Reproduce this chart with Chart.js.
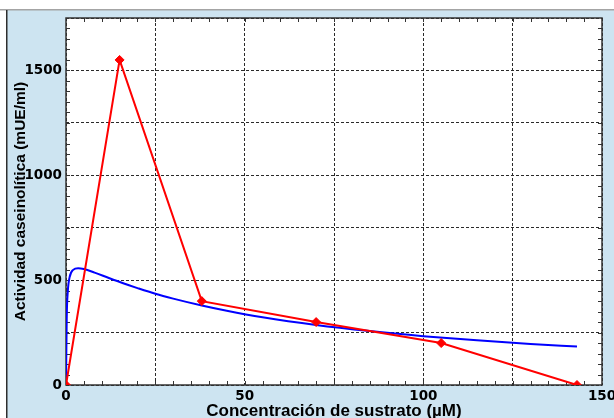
<!DOCTYPE html>
<html>
<head>
<meta charset="utf-8">
<script src="https://cdn.jsdelivr.net/npm/chart.js@4.4.1/dist/chart.umd.min.js"></script>
<style>
  html, body { margin: 0; padding: 0; background: #fff; }
</style>
</head>
<body>
<canvas id="actividad" width="614" height="418"></canvas>
<script>
// Actividad caseinolítica frente a concentración de sustrato
const medidosX = [0, 15, 38, 70, 105, 143];
const medidosY = [0, 1550, 400, 300, 200, 0];

// curva ajustada (inhibición por exceso de sustrato)
const ajusteX = [0, 0.2, 0.5, 1, 2, 3.4, 5, 8, 12, 16, 20, 25, 30, 38, 45, 55, 70, 85, 100, 115, 130, 143];
const ajusteY = [0, 316, 445, 513, 549, 557, 553, 536, 510, 485, 462, 435, 412, 379, 354, 323, 286, 257, 233, 213, 196, 183];

const xLabels = [0, 50, 100, 150];
const yLabels = [0, 500, 1000, 1500];

const toPoints = (xs, ys) => xs.map((x, i) => ({ x, y: ys[i] }));

// fondo azul del panel, área blanca, marco y marcas menores hacia dentro
const marco = {
    id: 'marco',
    beforeDraw(chart) {
        const { ctx, chartArea: a, width, height } = chart;
        ctx.save();
        ctx.fillStyle = '#cde4f1';
        ctx.fillRect(7, 10, width - 7, height - 10);
        ctx.fillStyle = '#a4a4a4';
        ctx.fillRect(0, 9, width, 1.5);
        ctx.fillStyle = '#2e2e2e';
        ctx.fillRect(6, 10, 1.5, height - 10);
        ctx.fillStyle = '#fff';
        ctx.fillRect(a.left, a.top, a.width, a.height);
        ctx.restore();
    },
    beforeDatasetsDraw(chart) {
        const { ctx, chartArea: a, scales: { x, y } } = chart;
        const len = 4;
        ctx.save();
        ctx.strokeStyle = '#333';
        ctx.lineWidth = 1;
        ctx.beginPath();
        for (let v = 5; v < 150; v += 5) {
            const px = Math.round(x.getPixelForValue(v)) + 0.5;
            ctx.moveTo(px, a.top); ctx.lineTo(px, a.top + len);
            ctx.moveTo(px, a.bottom); ctx.lineTo(px, a.bottom - len);
        }
        for (let v = 50; v < 1750; v += 50) {
            const py = Math.round(y.getPixelForValue(v)) + 0.5;
            ctx.moveTo(a.left, py); ctx.lineTo(a.left + len, py);
            ctx.moveTo(a.right, py); ctx.lineTo(a.right - len, py);
        }
        ctx.stroke();
        ctx.lineWidth = 1.5;
        ctx.strokeRect(a.left, a.top, a.width, a.height);
        ctx.restore();
    }
};

const tickFont = { family: 'DejaVu Sans', weight: 'bold', size: 13.5 };

new Chart(document.getElementById('actividad'), {
    type: 'line',
    data: {
        datasets: [
            {
                label: 'Medido',
                data: toPoints(medidosX, medidosY),
                borderColor: '#ff0000',
                borderWidth: 2,
                pointStyle: 'rectRot',
                pointRadius: 4.5,
                pointBackgroundColor: '#ff0000',
                pointBorderColor: '#ff0000',
                pointBorderWidth: 1,
                tension: 0,
                fill: false
            },
            {
                label: 'Ajuste',
                data: toPoints(ajusteX, ajusteY),
                borderColor: '#0000ff',
                borderWidth: 2,
                pointRadius: 0,
                cubicInterpolationMode: 'monotone',
                fill: false
            }
        ]
    },
    options: {
        responsive: false,
        animation: false,
        layout: { padding: { top: 18, right: 12, bottom: 0, left: 0 } },
        plugins: {
            legend: { display: false },
            tooltip: { enabled: false }
        },
        scales: {
            x: {
                type: 'linear',
                min: 0,
                max: 150,
                afterFit: (s) => { s.height = 33; s.paddingRight = 0; s.paddingLeft = 0; },
                ticks: {
                    stepSize: 25,
                    padding: 3,
                    autoSkip: false,
                    maxRotation: 0,
                    color: '#000',
                    font: tickFont,
                    callback: (v) => xLabels.includes(v) ? String(v) : ''
                },
                grid: { color: '#2a2a2a', lineWidth: 1, drawTicks: false },
                border: { display: false, dash: [3, 2] },
                title: {
                    display: true,
                    text: 'Concentración de sustrato (µM)',
                    color: '#000',
                    font: { family: 'Liberation Sans', weight: 'bold', size: 17, lineHeight: 0.8 },
                    padding: 0
                }
            },
            y: {
                type: 'linear',
                min: 0,
                max: 1750,
                afterFit: (s) => { s.width = 66; },
                ticks: {
                    stepSize: 250,
                    padding: 4,
                    autoSkip: false,
                    color: '#000',
                    font: tickFont,
                    callback: (v) => yLabels.includes(v) ? String(v) : ''
                },
                grid: { color: '#2a2a2a', lineWidth: 1, drawTicks: false },
                border: { display: false, dash: [3, 2] },
                title: {
                    display: true,
                    text: 'Actividad caseinolítica (mUE/ml)',
                    color: '#000',
                    font: { family: 'Liberation Sans', weight: 'bold', size: 15.5, lineHeight: 1.2 },
                    padding: { top: 11, bottom: 0 }
                }
            }
        }
    },
    plugins: [marco]
});
</script>
</body>
</html>
